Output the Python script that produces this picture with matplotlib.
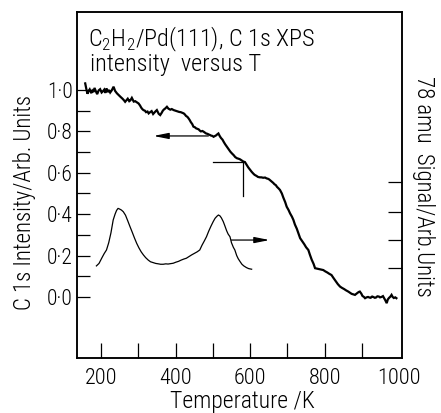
import matplotlib
matplotlib.use("Agg")
import matplotlib.pyplot as plt
from matplotlib.ticker import FixedLocator, NullFormatter

# C 1s XPS intensity versus temperature (thick trace, left axis)
xps_T = [158, 161, 164, 167, 170, 174, 177, 180, 183, 187, 190, 194, 198, 202,
         205, 209, 212, 215, 219, 222, 225, 229, 234, 238, 243, 248, 252, 258,
         262, 265, 269, 272, 276, 279, 283, 288, 292, 297, 301, 305, 308, 311,
         314, 318, 321, 325, 328, 332, 336, 340, 343, 347, 350, 353, 355, 359,
         363, 366, 369, 372, 377, 381, 386, 390, 395, 400, 405, 410, 414, 418,
         422, 425, 428, 432, 435, 438, 441, 445, 448, 452, 455, 458, 462, 465,
         468, 472, 475, 479, 482, 486, 489, 492, 495, 499, 502, 506, 509, 512,
         515, 519, 522, 526, 529, 533, 538, 542, 547, 551, 556, 560, 565, 569,
         573, 577, 582, 586, 590, 595, 600, 604, 608, 612, 617, 621, 626, 630,
         635, 640, 644, 648, 651, 655, 658, 662, 665, 669, 672, 676, 680, 685,
         689, 694, 698, 703, 707, 712, 716, 720, 725, 730, 734, 740, 745, 750,
         756, 760, 765, 770, 774, 779, 785, 790, 796, 801, 807, 812, 818, 824,
         830, 835, 841, 846, 852, 857, 863, 868, 872, 877, 881, 885, 888, 891,
         894, 898, 901, 905, 908, 912, 916, 920, 923, 927, 930, 934, 937, 941,
         945, 948, 952, 956, 959, 962, 966, 969, 972, 976, 979, 982, 985, 989,
         992]
xps_I = [1.032, 1.005, 0.982, 0.995, 1.003, 0.985, 0.997, 0.990, 1.010, 0.992,
         0.980, 0.998, 1.004, 0.988, 0.993, 1.002, 0.986, 1.008, 0.990, 1.000,
         0.988, 0.998, 1.016, 0.996, 0.984, 0.975, 0.968, 0.958, 0.950, 0.943,
         0.952, 0.958, 0.946, 0.950, 0.962, 0.944, 0.946, 0.940, 0.935, 0.925,
         0.915, 0.908, 0.903, 0.900, 0.893, 0.896, 0.887, 0.893, 0.898, 0.884,
         0.890, 0.898, 0.903, 0.892, 0.885, 0.879, 0.890, 0.900, 0.906, 0.910,
         0.919, 0.910, 0.905, 0.908, 0.903, 0.900, 0.897, 0.894, 0.893, 0.890,
         0.887, 0.882, 0.875, 0.870, 0.863, 0.855, 0.845, 0.835, 0.823, 0.820,
         0.815, 0.813, 0.810, 0.804, 0.800, 0.802, 0.799, 0.794, 0.790, 0.788,
         0.785, 0.783, 0.780, 0.778, 0.774, 0.778, 0.781, 0.786, 0.790, 0.776,
         0.768, 0.760, 0.750, 0.738, 0.725, 0.714, 0.702, 0.694, 0.685, 0.676,
         0.670, 0.668, 0.665, 0.660, 0.654, 0.652, 0.640, 0.626, 0.614, 0.605,
         0.597, 0.590, 0.585, 0.580, 0.578, 0.578, 0.576, 0.577, 0.573, 0.571,
         0.568, 0.562, 0.557, 0.551, 0.545, 0.540, 0.532, 0.525, 0.517, 0.500,
         0.480, 0.458, 0.436, 0.420, 0.404, 0.388, 0.372, 0.350, 0.330, 0.305,
         0.284, 0.268, 0.255, 0.240, 0.227, 0.205, 0.180, 0.160, 0.139, 0.137,
         0.135, 0.133, 0.130, 0.124, 0.118, 0.112, 0.106, 0.090, 0.075, 0.062,
         0.050, 0.044, 0.038, 0.032, 0.026, 0.020, 0.015, 0.012, 0.010, 0.016,
         0.020, 0.024, 0.026, 0.016, 0.005, 0.000, -0.006, -0.002, 0.000, -0.003,
         -0.004, 0.002, 0.000, -0.004, -0.003, 0.003, 0.002, -0.002, 0.000, 0.004,
         -0.005, -0.015, -0.030, -0.012, -0.005, 0.002, 0.010, 0.000, -0.005,
         -0.002, -0.006]

# 78 amu desorption signal (thin trace, right axis)
tpd_T = [188, 195, 203, 209, 215, 221, 227, 233, 238, 242, 246, 250, 255, 260,
         266, 272, 278, 284, 290, 296, 302, 308, 314, 320, 327, 333, 340, 347,
         354, 360, 367, 374, 380, 387, 394, 401, 408, 415, 422, 429, 436, 443,
         450, 458, 465, 471, 477, 483, 489, 495, 501, 506, 511, 515, 519, 523,
         528, 532, 537, 541, 546, 550, 555, 559, 564, 568, 573, 578, 583, 590,
         596, 604]
tpd_S = [0.150, 0.162, 0.190, 0.210, 0.227, 0.262, 0.310, 0.372, 0.400, 0.418,
         0.428, 0.425, 0.420, 0.412, 0.395, 0.368, 0.340, 0.313, 0.285, 0.259,
         0.237, 0.218, 0.203, 0.190, 0.178, 0.170, 0.166, 0.162, 0.160, 0.158,
         0.158, 0.160, 0.159, 0.161, 0.163, 0.168, 0.172, 0.178, 0.183, 0.187,
         0.195, 0.203, 0.210, 0.218, 0.227, 0.250, 0.270, 0.291, 0.318, 0.342,
         0.364, 0.380, 0.390, 0.396, 0.392, 0.382, 0.364, 0.345, 0.320, 0.304,
         0.291, 0.262, 0.240, 0.227, 0.200, 0.185, 0.171, 0.158, 0.150, 0.142,
         0.137, 0.134]

left_ticks = [0.0, 0.1, 0.2, 0.3, 0.4, 0.5, 0.6, 0.7, 0.8, 0.9, 1.0]
left_labels = ["0·0", "0·2", "0·4", "0·6", "0·8", "1·0"]
right_ticks = [0.14, 0.275, 0.411, 0.556]
x_major = [200, 400, 600, 800, 1000]
x_minor = [300, 500, 700, 900]

# arrows and marker (data coordinates)
xps_arrow = ((488, 0.778), (341, 0.778))
tpd_arrow = ((550, 0.275), (652, 0.275))
marker_T, marker_I, marker_left, marker_low = 580, 0.654, 501, 0.488

plt.rcParams["font.family"] = ["Roboto Condensed", "DejaVu Sans"]
plt.rcParams["font.weight"] = "light"
plt.rcParams["mathtext.fontset"] = "custom"
plt.rcParams["mathtext.rm"] = "Roboto Condensed:light"
plt.rcParams["font.size"] = 15

fig = plt.figure(figsize=(4.41, 4.13), dpi=100)
ax = fig.add_axes([77 / 441, 1 - 358 / 413, 325 / 441, 346 / 413])
ax.set_xlim(136, 1007)
ax.set_ylim(-0.295, 1.377)

ax.plot(xps_T, xps_I, color="black", lw=1.6, solid_joinstyle="miter")

ax2 = ax.twinx()
ax2.set_ylim(ax.get_ylim())
ax2.plot(tpd_T, tpd_S, color="black", lw=0.9)

for spine in list(ax.spines.values()) + list(ax2.spines.values()):
    spine.set_linewidth(1.1)

ax.yaxis.set_major_locator(FixedLocator(left_ticks))
ax.set_yticklabels([left_labels[i // 2] if i % 2 == 0 else "" for i in range(len(left_ticks))])
ax.tick_params(axis="y", direction="in", length=9.5, width=0.9, pad=3, labelsize=15.5)

ax.xaxis.set_major_locator(FixedLocator(x_major))
ax.xaxis.set_minor_locator(FixedLocator(x_minor))
ax.set_xticklabels([str(v) for v in x_major])
ax.tick_params(axis="x", which="both", direction="in", length=11, width=0.9, pad=7, labelsize=16)
ax.xaxis.get_major_ticks()[-1].tick1line.set_visible(False)

ax2.yaxis.set_major_locator(FixedLocator(right_ticks))
ax2.yaxis.set_major_formatter(NullFormatter())
ax2.tick_params(axis="y", direction="in", length=10, width=0.9)

ax.annotate("", xy=xps_arrow[1], xytext=xps_arrow[0],
            arrowprops=dict(arrowstyle="-|>,head_length=0.9,head_width=0.18",
                            color="black", lw=0.9, mutation_scale=10,
                            shrinkA=0, shrinkB=0))
ax.annotate("", xy=tpd_arrow[1], xytext=tpd_arrow[0],
            arrowprops=dict(arrowstyle="-|>,head_length=0.9,head_width=0.18",
                            color="black", lw=0.9, mutation_scale=10,
                            shrinkA=0, shrinkB=0))
ax.plot([marker_left, marker_T], [marker_I, marker_I], color="black", lw=0.9)
ax.plot([marker_T, marker_T], [marker_I, marker_low], color="black", lw=0.9)

fig.text(88 / 441, 1 - 46 / 413, r"C$_\mathrm{2}$H$_\mathrm{2}$/Pd(111), C 1s XPS",
         ha="left", va="baseline", fontsize=17.5)
fig.text(90 / 441, 1 - 71 / 413, "intensity  versus T",
         ha="left", va="baseline", fontsize=17.5)

fig.text(25 / 441, 1 - 203 / 413, "C 1s Intensity/Arb. Units",
         rotation=90, ha="center", va="center", fontsize=16.5)
fig.text(424 / 441, 1 - 186 / 413, "78 amu  Signal/Arb.Units",
         rotation=-90, ha="center", va="center", fontsize=16.5)
fig.text(242 / 441, 1 - 408 / 413, "Temperature /K",
         ha="center", va="baseline", fontsize=17)

fig.savefig("out.png", dpi=100)
